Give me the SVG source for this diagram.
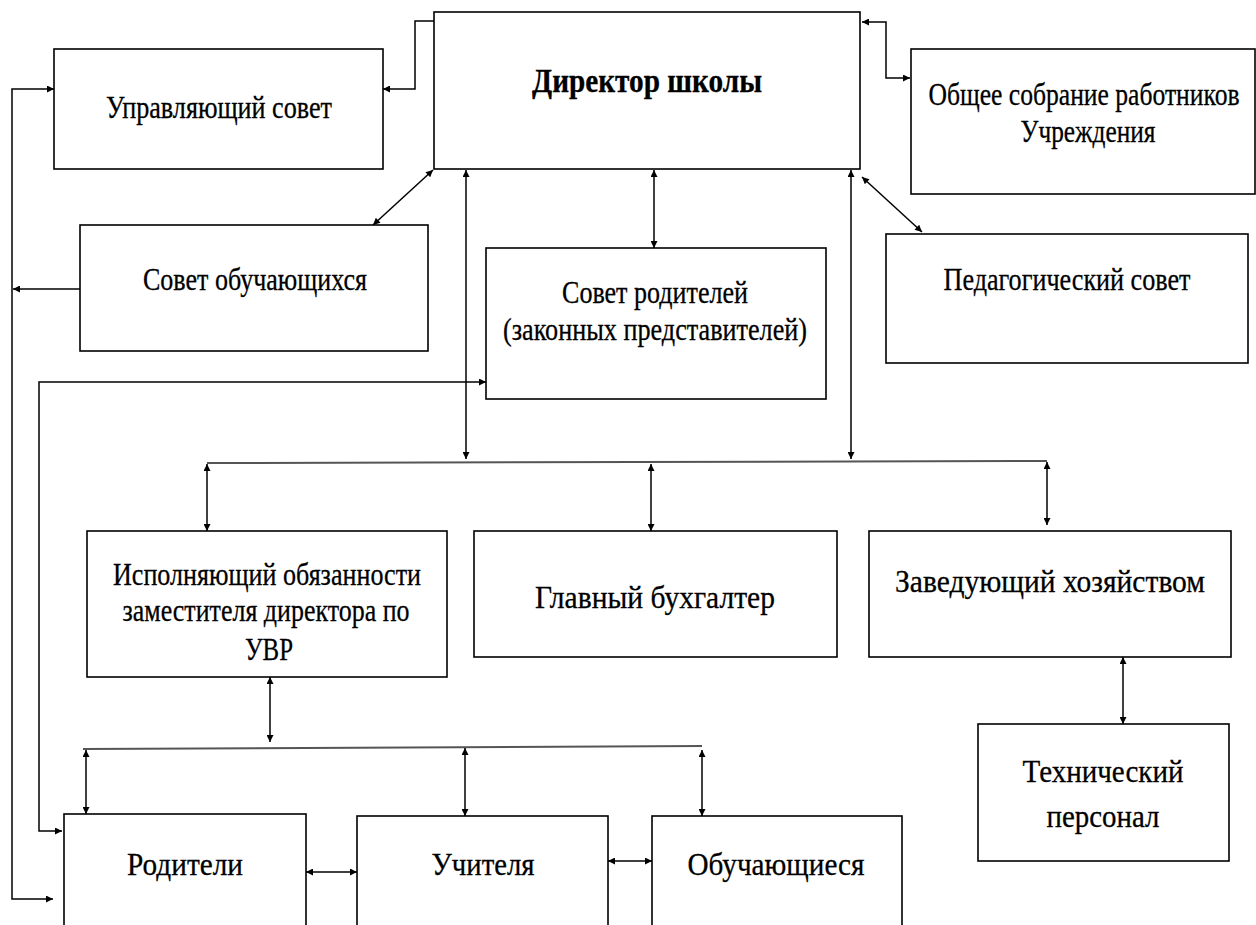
<svg xmlns="http://www.w3.org/2000/svg" width="1256" height="925" viewBox="0 0 1256 925">
<style>
.box{fill:#fff;stroke:#000;stroke-width:1.6}
.t{font-family:"Liberation Serif","Times New Roman",serif;font-size:32px;fill:#000;stroke:#000;stroke-width:0.3;text-anchor:middle}
.b{font-weight:bold;font-size:33px}
.c{fill:none;stroke:#000;stroke-width:1.5;marker-start:url(#ar);marker-end:url(#ar)}
.e{fill:none;stroke:#000;stroke-width:1.5;marker-end:url(#ar)}
.bus{fill:none;stroke:#555;stroke-width:2}
</style>
<defs>
<marker id="ar" viewBox="0 0 10 10" refX="10" refY="5" markerWidth="10" markerHeight="7" markerUnits="userSpaceOnUse" orient="auto-start-reverse">
<path d="M0,0 L10,5 L0,10 z" fill="#000"/>
</marker>
</defs>
<rect width="1256" height="925" fill="#fff"/>
<g id="connectors">
<polyline class="c" points="383,89 415,89 415,21 446,21"/>
<polyline class="c" points="862,22 886,22 886,78 910,78"/>
<polyline class="c" points="54,89 12,89 12,899 53,899"/>
<line class="e" x1="80" y1="289" x2="13" y2="289"/>
<polyline class="c" points="62,831 39,831 39,382 486,382"/>
<line class="c" x1="373" y1="225" x2="433" y2="170"/>
<line class="c" x1="862" y1="177" x2="922" y2="232"/>
<line class="c" x1="654" y1="170" x2="654" y2="248"/>
<line class="c" x1="466" y1="170" x2="466" y2="459"/>
<line class="c" x1="851" y1="170" x2="851" y2="459"/>
<line class="bus" x1="207" y1="463" x2="1047" y2="461"/>
<line class="c" x1="207" y1="464" x2="207" y2="531"/>
<line class="c" x1="651" y1="464" x2="651" y2="531"/>
<line class="c" x1="1047" y1="462" x2="1047" y2="525"/>
<line class="c" x1="1123" y1="657" x2="1123" y2="724"/>
<line class="c" x1="270" y1="677" x2="270" y2="742"/>
<line class="bus" x1="83" y1="749" x2="702" y2="746"/>
<line class="c" x1="86" y1="750" x2="86" y2="814"/>
<line class="c" x1="465" y1="748" x2="465" y2="816"/>
<line class="c" x1="702" y1="750" x2="702" y2="816"/>
<line class="c" x1="306" y1="872" x2="357" y2="872"/>
<line class="c" x1="608" y1="861" x2="652" y2="861"/>
</g>
<g id="director"><rect class="box" x="434" y="12" width="426" height="157"/><text class="t b" x="647" y="92" textLength="230" lengthAdjust="spacingAndGlyphs">Директор школы</text></g>
<g id="upravl"><rect class="box" x="54" y="49" width="329" height="120"/><text class="t" x="219" y="118" textLength="226" lengthAdjust="spacingAndGlyphs">Управляющий совет</text></g>
<g id="sovet-obuch"><rect class="box" x="80" y="225" width="348" height="126"/><text class="t" x="255" y="290" textLength="224" lengthAdjust="spacingAndGlyphs">Совет обучающихся</text></g>
<g id="obshee"><rect class="box" x="911" y="49" width="344" height="145"/><text class="t" transform="translate(1084,105) scale(0.8,1)" x="0" y="0">Общее собрание работников</text><text class="t" x="1088" y="142" textLength="135" lengthAdjust="spacingAndGlyphs">Учреждения</text></g>
<g id="pedsovet"><rect class="box" x="886" y="234" width="362" height="129"/><text class="t" x="1067" y="290" textLength="247" lengthAdjust="spacingAndGlyphs">Педагогический совет</text></g>
<g id="sovet-rod"><rect class="box" x="486" y="248" width="340" height="151"/><text class="t" x="655" y="303" textLength="186" lengthAdjust="spacingAndGlyphs">Совет родителей</text><text class="t" x="655" y="340" textLength="304" lengthAdjust="spacingAndGlyphs">(законных представителей)</text></g>
<g id="io-zam"><rect class="box" x="87" y="531" width="360" height="146"/><text class="t" x="267" y="585" textLength="308" lengthAdjust="spacingAndGlyphs">Исполняющий обязанности</text><text class="t" x="266" y="621" textLength="287" lengthAdjust="spacingAndGlyphs">заместителя директора по</text><text class="t" x="269" y="660" textLength="48" lengthAdjust="spacingAndGlyphs">УВР</text></g>
<g id="glavbuh"><rect class="box" x="474" y="531" width="363" height="126"/><text class="t" x="655" y="608" textLength="240" lengthAdjust="spacingAndGlyphs">Главный бухгалтер</text></g>
<g id="zavhoz"><rect class="box" x="869" y="531" width="362" height="126"/><text class="t" x="1050" y="592" textLength="310" lengthAdjust="spacingAndGlyphs">Заведующий хозяйством</text></g>
<g id="tehpers"><rect class="box" x="978" y="724" width="251" height="137"/><text class="t" x="1103" y="782" textLength="161" lengthAdjust="spacingAndGlyphs">Технический</text><text class="t" x="1103" y="827" textLength="113" lengthAdjust="spacingAndGlyphs">персонал</text></g>
<g id="roditeli"><rect class="box" x="64" y="814" width="242" height="130"/><text class="t" x="185" y="875" textLength="116" lengthAdjust="spacingAndGlyphs">Родители</text></g>
<g id="uchitelya"><rect class="box" x="357" y="816" width="251" height="130"/><text class="t" x="483" y="875" textLength="103" lengthAdjust="spacingAndGlyphs">Учителя</text></g>
<g id="obuchayushiesya"><rect class="box" x="652" y="816" width="250" height="130"/><text class="t" x="776" y="875" textLength="177" lengthAdjust="spacingAndGlyphs">Обучающиеся</text></g>
</svg>
